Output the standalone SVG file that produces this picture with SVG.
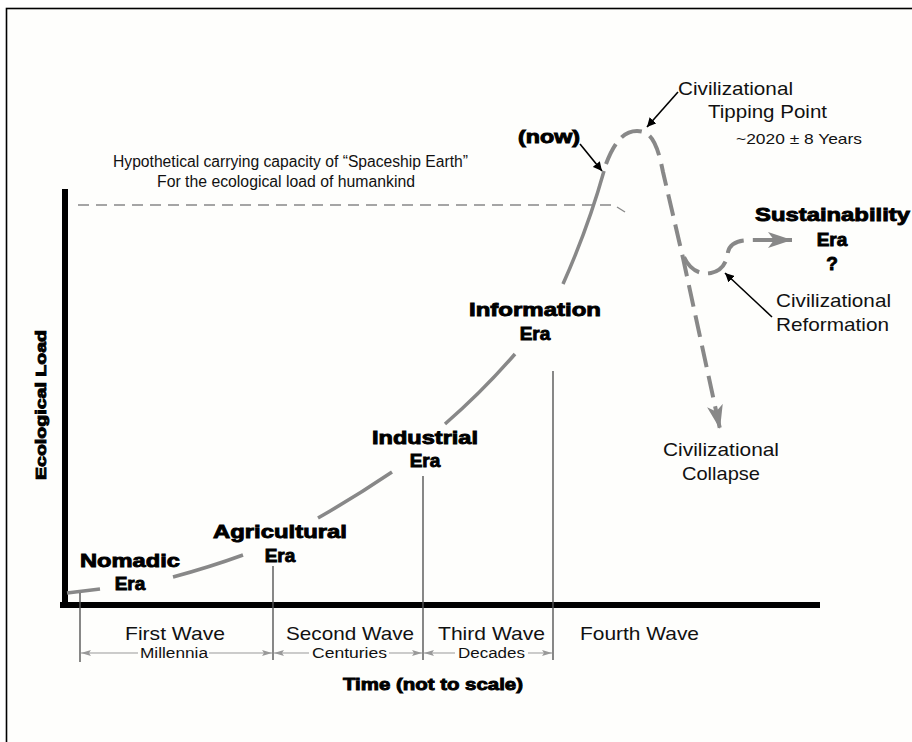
<svg xmlns="http://www.w3.org/2000/svg" width="912" height="742" viewBox="0 0 912 742">
<style>
.r{font-family:"Liberation Sans",Arial,sans-serif;fill:#111;}
.b{font-family:"Liberation Sans",Arial,sans-serif;font-weight:bold;fill:#000;stroke:#000;stroke-width:0.9;}
.curve{fill:none;stroke:#888;stroke-width:3.5;stroke-linecap:butt;}
.dash{fill:none;stroke:#888;stroke-width:4;stroke-dasharray:22 9;}
.ptr{fill:none;stroke:#000;stroke-width:1.6;}
.vl{stroke:#555;stroke-width:1.4;}
.dim{stroke:#999;stroke-width:1;fill:none;}
</style>
<defs>
<marker id="ah" viewBox="0 0 10 10" refX="10" refY="5" markerWidth="9" markerHeight="9" markerUnits="userSpaceOnUse" orient="auto"><path d="M0,0 L10,5 L0,10 z" fill="#000"/></marker>
<marker id="gh" viewBox="0 0 24 16" refX="24" refY="8" markerWidth="24" markerHeight="16" markerUnits="userSpaceOnUse" orient="auto"><path d="M0,0 L24,8 L0,16 L6,8 z" fill="#888"/></marker>
<marker id="dh" viewBox="0 0 10 6" refX="10" refY="3" markerWidth="10" markerHeight="6" markerUnits="userSpaceOnUse" orient="auto"><path d="M0,0 L10,3 L0,6 L2,3 z" fill="#999"/></marker>
</defs>
<rect x="0" y="0" width="912" height="742" fill="#fff"/>
<rect x="6.5" y="8.5" width="1000" height="1000" fill="#fefefc" stroke="#000" stroke-width="1.6"/>

<g id="axes">
<rect x="62" y="189" width="6" height="419" fill="#000"/>
<rect x="60" y="602" width="760" height="6" fill="#000"/>
<text class="b" transform="translate(46,405) rotate(-90)" text-anchor="middle" font-size="15" textLength="150" lengthAdjust="spacingAndGlyphs">Ecological Load</text>
<text class="b" x="343" y="690" font-size="17" textLength="180" lengthAdjust="spacingAndGlyphs">Time (not to scale)</text>
</g>

<g id="capacity">
<line x1="78" y1="205" x2="612" y2="205" stroke="#888" stroke-width="1.6" stroke-dasharray="11 7"/>
<line x1="617" y1="207" x2="625" y2="212" stroke="#888" stroke-width="1.4"/>
<text class="r" x="113" y="167" font-size="16" textLength="355" lengthAdjust="spacingAndGlyphs">Hypothetical carrying capacity of “Spaceship Earth”</text>
<text class="r" x="157" y="187" font-size="16" textLength="258" lengthAdjust="spacingAndGlyphs">For the ecological load of humankind</text>
</g>

<g id="connectors">
<path class="curve" d="M67,593 L100,589"/>
<path class="curve" d="M173,577 Q210,567 243,555"/>
<path class="curve" d="M318,518 Q355,497 392,472"/>
<path class="curve" d="M445,424 Q482,392 515,354"/>
<path class="curve" d="M563,284 Q588,228 604,171"/>
<path class="dash" d="M606,164 C616,138 626,131 637,131 C651,131 657,142 663,172 L683,258 L720,429" marker-end="url(#gh)"/>
<path class="dash" d="M684,257 C690,270 700,275 711,273 C722,271 727,262 728,252 C730,243 738,240 752,240 L792,240" marker-end="url(#gh)"/>
<line class="ptr" x1="580" y1="144" x2="602" y2="171" marker-end="url(#ah)"/>
<line class="ptr" x1="678" y1="92" x2="647" y2="127" marker-end="url(#ah)"/>
<line class="ptr" x1="772" y1="317" x2="725" y2="273" marker-end="url(#ah)"/>
<line class="vl" x1="80" y1="593" x2="80" y2="662"/>
<line class="vl" x1="273" y1="566" x2="273" y2="660"/>
<line class="vl" x1="423" y1="476" x2="423" y2="660"/>
<line class="vl" x1="553" y1="371" x2="553" y2="660"/>
<line class="dim" x1="138" y1="653" x2="81" y2="653" marker-end="url(#dh)"/>
<line class="dim" x1="209" y1="653" x2="272" y2="653" marker-end="url(#dh)"/>
<line class="dim" x1="309" y1="653" x2="274" y2="653" marker-end="url(#dh)"/>
<line class="dim" x1="389" y1="653" x2="422" y2="653" marker-end="url(#dh)"/>
<line class="dim" x1="455" y1="653" x2="424" y2="653" marker-end="url(#dh)"/>
<line class="dim" x1="528" y1="653" x2="552" y2="653" marker-end="url(#dh)"/>
</g>

<g id="nomadic"><text class="b" x="130" y="567" text-anchor="middle" font-size="19" textLength="100" lengthAdjust="spacingAndGlyphs">Nomadic</text><text class="b" x="130" y="590" text-anchor="middle" font-size="19">Era</text></g>
<g id="agricultural"><text class="b" x="280" y="538" text-anchor="middle" font-size="19" textLength="134" lengthAdjust="spacingAndGlyphs">Agricultural</text><text class="b" x="280" y="562" text-anchor="middle" font-size="19">Era</text></g>
<g id="industrial"><text class="b" x="425" y="444" text-anchor="middle" font-size="19" textLength="106" lengthAdjust="spacingAndGlyphs">Industrial</text><text class="b" x="425" y="467" text-anchor="middle" font-size="19">Era</text></g>
<g id="information"><text class="b" x="535" y="316" text-anchor="middle" font-size="19" textLength="132" lengthAdjust="spacingAndGlyphs">Information</text><text class="b" x="535" y="340" text-anchor="middle" font-size="19">Era</text></g>
<g id="now"><text class="b" x="518" y="143" font-size="18" textLength="62" lengthAdjust="spacingAndGlyphs">(now)</text></g>
<g id="tipping">
<text class="r" x="678" y="95" font-size="19" textLength="115" lengthAdjust="spacingAndGlyphs">Civilizational</text>
<text class="r" x="708" y="118" font-size="19" textLength="119" lengthAdjust="spacingAndGlyphs">Tipping Point</text>
<text class="r" x="736" y="144" font-size="15" textLength="126" lengthAdjust="spacingAndGlyphs">~2020 ± 8 Years</text>
</g>
<g id="sustainability">
<text class="b" x="755" y="221" font-size="19" textLength="155" lengthAdjust="spacingAndGlyphs">Sustainability</text>
<text class="b" x="832" y="246" text-anchor="middle" font-size="19">Era</text>
<text class="b" x="832" y="270" text-anchor="middle" font-size="19">?</text>
</g>
<g id="reformation">
<text class="r" x="776" y="307" font-size="19" textLength="115" lengthAdjust="spacingAndGlyphs">Civilizational</text>
<text class="r" x="776" y="331" font-size="19" textLength="113" lengthAdjust="spacingAndGlyphs">Reformation</text>
</g>
<g id="collapse">
<text class="r" x="663" y="456" font-size="19" textLength="116" lengthAdjust="spacingAndGlyphs">Civilizational</text>
<text class="r" x="721" y="480" text-anchor="middle" font-size="19" textLength="78" lengthAdjust="spacingAndGlyphs">Collapse</text>
</g>
<g id="waves">
<text class="r" x="125" y="640" font-size="19" textLength="100" lengthAdjust="spacingAndGlyphs">First Wave</text>
<text class="r" x="286" y="640" font-size="19" textLength="128" lengthAdjust="spacingAndGlyphs">Second Wave</text>
<text class="r" x="438" y="640" font-size="19" textLength="107" lengthAdjust="spacingAndGlyphs">Third Wave</text>
<text class="r" x="580" y="640" font-size="19" textLength="119" lengthAdjust="spacingAndGlyphs">Fourth Wave</text>
<text class="r" x="140" y="658" font-size="14" textLength="68" lengthAdjust="spacingAndGlyphs">Millennia</text>
<text class="r" x="312" y="658" font-size="14" textLength="75" lengthAdjust="spacingAndGlyphs">Centuries</text>
<text class="r" x="458" y="658" font-size="14" textLength="67" lengthAdjust="spacingAndGlyphs">Decades</text>
</g>
</svg>
